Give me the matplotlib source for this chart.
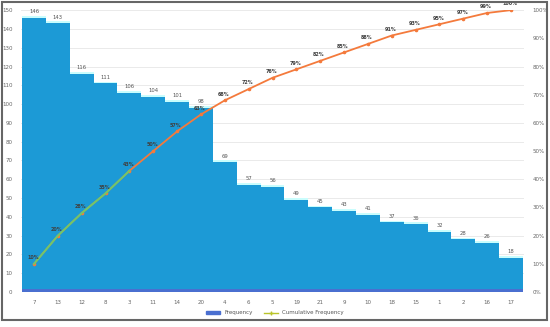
import numpy as np
import matplotlib.pyplot as plt
from matplotlib.lines import Line2D
from matplotlib.patches import Patch

# data
categories = ['7', '13', '12', '8', '3', '11', '14', '20', '4', '6', '5',
              '19', '21', '9', '10', '18', '15', '1', '2', '16', '17']
frequency = [146, 143, 116, 111, 106, 104, 101, 98, 69, 57, 56,
             49, 45, 43, 41, 37, 36, 32, 28, 26, 18]
cum_pct = [10, 20, 28, 35, 43, 50, 57, 63, 68, 72, 76,
           79, 82, 85, 88, 91, 93, 95, 97, 99, 100]

x = np.arange(len(categories))
freq = np.array(frequency)

fig = plt.figure(figsize=(5.5, 3.27), dpi=100)
fig.patches.append(plt.Rectangle((0.004, 0.02), 0.99, 0.975, transform=fig.transFigure,
                                 fill=False, edgecolor='#666666', lw=1.5))
ax = fig.add_axes([0.038, 0.107, 0.915, 0.862])

# gridlines
ax.set_ylim(0, 150)
ax.set_yticks(np.arange(0, 151, 10))
ax.yaxis.grid(True, color='#e6e6e6', lw=0.6)
ax.set_axisbelow(True)

# layered bars (cyan fringe, darker blue, main blue)
ax.bar(x, freq + 2.5, bottom=-1.5, width=1.0, color='#c9fdfd', zorder=1)
ax.bar(x, freq, width=1.0, color='#4a6fd0', zorder=2)
ax.bar(x, freq - 1.5, bottom=1.5, width=1.0, color='#1c9ad6', zorder=3)

for xi, v in zip(x, frequency):
    ax.text(xi, v + 2, str(v), ha='center', va='bottom', fontsize=3.8, color='#555555', zorder=6)

ax.set_xlim(-0.55, len(categories) - 0.45)
ax.set_xticks(x)
ax.set_xticklabels(categories)
ax.tick_params(axis='both', labelsize=4, colors='#666666', length=0, pad=6)
for s in ax.spines.values():
    s.set_visible(False)

# cumulative line on secondary axis
ax2 = ax.twinx()
ax2.set_ylim(0, 100)
ax2.set_yticks(np.arange(0, 101, 10))
ax2.set_yticklabels([f'{p}%' for p in range(0, 101, 10)])
ax2.tick_params(axis='y', labelsize=4, colors='#666666', length=0, pad=6)
for s in ax2.spines.values():
    s.set_visible(False)

ax2.plot(x, cum_pct, color='#f47a3c', lw=1.3, marker='o', ms=1.6, zorder=5)
ax2.plot(x[:5], cum_pct[:5], color='#6ccb6a', lw=1.3, zorder=6)
for xi, p in zip(x, cum_pct):
    ax2.text(xi - 0.05, p + 1.3, f'{p}%', ha='center', va='bottom', fontsize=3.5,
             fontweight='bold', color='#404040', zorder=7)

handles = [Patch(color='#4a6fd0', label='Frequency'),
           Line2D([0], [0], color='#b9c42a', lw=1, marker='+', ms=3, label='Cumulative Frequency')]
fig.legend(handles=handles, loc='lower center', bbox_to_anchor=(0.5, 0.02), ncol=2,
           frameon=False, fontsize=4, labelcolor='#555555', handlelength=2.5)

fig.savefig('out.png', dpi=100)
